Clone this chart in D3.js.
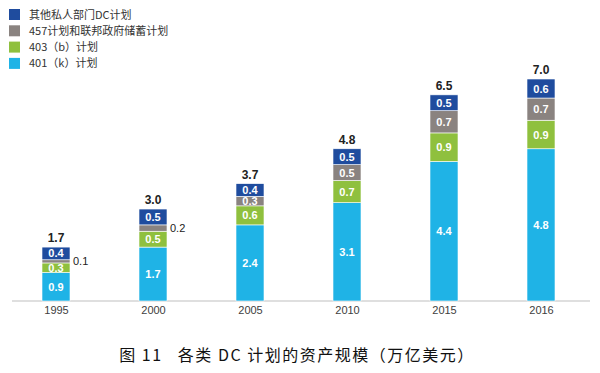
<!DOCTYPE html>
<html>
<head>
<meta charset="utf-8">
<script src="https://cdn.jsdelivr.net/npm/d3@7"></script>
<style>
  body { margin: 0; background: #fff; }
  svg { display: block; }
</style>
</head>
<body>
<svg id="chart" width="600" height="373"></svg>
<script>
// chart data
const years = ["1995", "2000", "2005", "2010", "2015", "2016"];
const k401 = [0.9, 1.7, 2.4, 3.1, 4.4, 4.8];
const b403 = [0.3, 0.5, 0.6, 0.7, 0.9, 0.9];
const plan457 = [0.1, 0.2, 0.3, 0.5, 0.7, 0.7];
const otherDC = [0.4, 0.5, 0.4, 0.5, 0.5, 0.6];
const totals = [1.7, 3.0, 3.7, 4.8, 6.5, 7.0];
const seriesNames = ["401（k）计划", "403（b）计划", "457计划和联邦政府储蓄计划", "其他私人部门DC计划"];
const colors = ["#1fb3e6", "#8fc03e", "#8a8380", "#1f4c9e"];

const svg = d3.select("#chart");

const x = d3.scalePoint()
  .domain(years)
  .range([56, 541]);

const y = d3.scaleLinear()
  .domain([0, 7.0])
  .range([301, 79]);

const barW = 28;

// build stack table
const table = years.map((yr, i) => ({
  year: yr, k401: k401[i], b403: b403[i], plan457: plan457[i], otherDC: otherDC[i]
}));
const keys = ["k401", "b403", "plan457", "otherDC"];
const stacked = d3.stack().keys(keys)(table);

// axis line
svg.append("line")
  .attr("x1", 12).attr("x2", 590)
  .attr("y1", y(0)).attr("y2", y(0))
  .attr("stroke", "#bfbfbf").attr("stroke-width", 1);

// x axis labels
const xAxis = d3.axisBottom(x).tickSize(0).tickPadding(5);
const gx = svg.append("g")
  .attr("transform", `translate(0, ${y(0)})`)
  .call(xAxis);
gx.select(".domain").remove();
gx.selectAll("text")
  .style("font-family", "'Liberation Sans', Arial, sans-serif")
  .style("font-size", "11px")
  .attr("fill", "#404040");

const small = d => y(d[0]) - y(d[1]) < 8;

// bars
stacked.forEach((layer, li) => {
  const g = svg.append("g");
  g.selectAll("rect")
    .data(layer)
    .enter()
    .append("rect")
    .attr("x", d => x(d.data.year) - barW / 2)
    .attr("y", d => y(d[1]))
    .attr("width", barW)
    .attr("height", d => y(d[0]) - y(d[1]))
    .attr("fill", colors[li])
    .attr("stroke", "#ffffff")
    .attr("stroke-width", 0.6);

  g.selectAll("text")
    .data(layer)
    .enter()
    .append("text")
    .attr("x", d => small(d) ? x(d.data.year) + barW / 2 + 3 : x(d.data.year))
    .attr("y", d => (y(d[0]) + y(d[1])) / 2 + 4)
    .attr("text-anchor", d => small(d) ? "start" : "middle")
    .attr("fill", d => small(d) ? "#222" : "#fff")
    .style("font-family", "'Liberation Sans', Arial, sans-serif")
    .style("font-size", "11px")
    .style("font-weight", d => small(d) ? "normal" : "bold")
    .text(d => (d[1] - d[0]).toFixed(1));
});

// totals
svg.selectAll(".total")
  .data(years)
  .enter()
  .append("text")
  .attr("class", "total")
  .attr("x", d => x(d))
  .attr("y", (d, i) => y(d3.sum([k401[i], b403[i], plan457[i], otherDC[i]])) - 5)
  .attr("text-anchor", "middle")
  .attr("fill", "#222")
  .style("font-family", "'Liberation Sans', Arial, sans-serif")
  .style("font-size", "12px")
  .style("font-weight", "bold")
  .text((d, i) => totals[i].toFixed(1));

// legend
const legendOrder = [3, 2, 1, 0];
const legend = svg.selectAll(".legend")
  .data(legendOrder)
  .enter()
  .append("g")
  .attr("class", "legend")
  .attr("transform", (d, i) => `translate(9, ${9 + i * 16.3})`);
legend.append("rect")
  .attr("width", 11).attr("height", 11)
  .attr("fill", d => colors[d]);
legend.append("text")
  .attr("x", 20).attr("y", 9.5)
  .attr("fill", "#333")
  .style("font-family", "'Noto Sans CJK SC', sans-serif")
  .style("font-size", "11px")
  .text(d => seriesNames[d]);

// caption
svg.append("text")
  .attr("x", 297)
  .attr("y", 361)
  .attr("text-anchor", "middle")
  .attr("fill", "#111")
  .style("font-family", "'Noto Sans CJK SC', sans-serif")
  .style("font-size", "16px")
  .style("letter-spacing", "1.5px")
  .attr("xml:space", "preserve")
  .text("图 11   各类 DC 计划的资产规模（万亿美元）");
</script>
</body>
</html>
